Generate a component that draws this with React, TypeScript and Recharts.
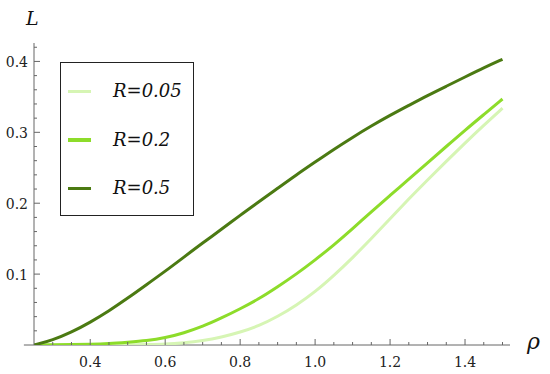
import React from "react";
import { LineChart, Line, XAxis, YAxis, Legend, ReferenceLine } from "recharts";

const RHO = [0.25, 0.3, 0.35, 0.4, 0.45, 0.5, 0.55, 0.6, 0.65, 0.7, 0.75, 0.8, 0.85, 0.9, 0.95, 1.0, 1.05, 1.1, 1.15, 1.2, 1.25, 1.3, 1.35, 1.4, 1.45, 1.5];
const L_R005 = [0, 0, 0, 0, 0, 0.0002, 0.0005, 0.001, 0.003, 0.006, 0.011, 0.018, 0.027, 0.04, 0.056, 0.075, 0.098, 0.123, 0.15, 0.178, 0.206, 0.233, 0.259, 0.285, 0.31, 0.334];
const L_R02 = [0, 0.0002, 0.0005, 0.001, 0.002, 0.004, 0.006, 0.01, 0.017, 0.026, 0.038, 0.051, 0.065, 0.082, 0.1, 0.12, 0.141, 0.164, 0.188, 0.211, 0.234, 0.257, 0.28, 0.303, 0.325, 0.347];
const L_R05 = [0, 0.007, 0.018, 0.032, 0.048, 0.066, 0.085, 0.104, 0.124, 0.144, 0.163, 0.183, 0.202, 0.221, 0.24, 0.258, 0.276, 0.293, 0.309, 0.324, 0.338, 0.352, 0.365, 0.378, 0.391, 0.403];
const SERIES_NAMES = ["R=0.05", "R=0.2", "R=0.5"];
const SERIES_COLORS = ["#d6f5b4", "#8ddc2a", "#4b7a12"];

const X_MAJOR = [0.4, 0.6, 0.8, 1.0, 1.2, 1.4];
const X_TICKS = [0.3, 0.35, 0.4, 0.45, 0.5, 0.55, 0.6, 0.65, 0.7, 0.75, 0.8, 0.85, 0.9, 0.95, 1.0, 1.05, 1.1, 1.15, 1.2, 1.25, 1.3, 1.35, 1.4, 1.45, 1.5];
const Y_MAJOR = [0.1, 0.2, 0.3, 0.4];
const Y_TICKS = [0.02, 0.04, 0.06, 0.08, 0.1, 0.12, 0.14, 0.16, 0.18, 0.2, 0.22, 0.24, 0.26, 0.28, 0.3, 0.32, 0.34, 0.36, 0.38, 0.4, 0.42];
const X_DOMAIN: [number, number] = [0.25, 1.52];
const X_AXIS_START = 0.223;
const Y_DOMAIN: [number, number] = [0, 0.426];
const X_LABEL = "ρ";
const Y_LABEL = "L";

const data = RHO.map((r, i) => ({ rho: r, a: L_R005[i], b: L_R02[i], c: L_R05[i] }));

const AXIS_COLOR = "#666666";
const LABEL_COLOR = "#222222";
const SERIF = "'DejaVu Serif', serif";

const isMajor = (list: number[], v: number) => list.some((m) => Math.abs(m - v) < 1e-9);

const XTick = (props: any) => {
  const { x, y, payload } = props;
  const major = isMajor(X_MAJOR, payload.value);
  return (
    <g>
      <line x1={x} y1={y} x2={x} y2={y - (major ? 6 : 3)} stroke={AXIS_COLOR} strokeWidth={1} />
      {major && (
        <text x={x} y={y + 22} textAnchor="middle" style={{ fontFamily: SERIF, fontSize: 14 }} fill={LABEL_COLOR}>
          {payload.value.toFixed(1)}
        </text>
      )}
    </g>
  );
};

const YTick = (props: any) => {
  const { x, y, payload } = props;
  const major = isMajor(Y_MAJOR, payload.value);
  return (
    <g>
      <line x1={x} y1={y} x2={x + (major ? 6 : 3)} y2={y} stroke={AXIS_COLOR} strokeWidth={1} />
      {major && (
        <text x={x - 6} y={y + 6} textAnchor="end" style={{ fontFamily: SERIF, fontSize: 14 }} fill={LABEL_COLOR}>
          {payload.value.toFixed(1)}
        </text>
      )}
    </g>
  );
};

const LegendBox = (props: any) => {
  const payload = props.payload || [];
  return (
    <div
      style={{
        boxSizing: "border-box",
        width: 134,
        height: 154,
        border: "1.3px solid #222",
        background: "#fff",
        paddingTop: 4,
      }}
    >
      {payload.map((p: any, i: number) => (
        <div key={i} style={{ display: "flex", alignItems: "center", height: 48.6 }}>
          <div style={{ marginLeft: 7, width: 23, height: 3.5, background: p.color }} />
          <span
            style={{
              marginLeft: 22,
              fontFamily: SERIF,
              fontStyle: "italic",
              fontSize: 18,
              color: "#111",
              lineHeight: 1,
            }}
          >
            {p.value}
          </span>
        </div>
      ))}
    </div>
  );
};

export default function App() {
  return (
    <div style={{ position: "absolute", left: 0, top: 0, width: 550, height: 374, background: "#fff" }}>
      <LineChart width={550} height={374} data={data} margin={{ top: 43, right: 40, bottom: 0, left: 0 }}>
        <XAxis
          dataKey="rho"
          type="number"
          domain={X_DOMAIN}
          allowDataOverflow
          ticks={X_TICKS}
          interval={0}
          height={29}
          axisLine={false}
          tickSize={0}
          tickMargin={0}
          tickLine={false}
          tick={<XTick />}
        />
        <YAxis
          type="number"
          domain={Y_DOMAIN}
          allowDataOverflow
          ticks={Y_TICKS}
          interval={0}
          width={34}
          axisLine={{ stroke: AXIS_COLOR, strokeWidth: 1 }}
          tickSize={0}
          tickMargin={0}
          tickLine={false}
          tick={<YTick />}
        />
        <ReferenceLine
          segment={[
            { x: X_AXIS_START, y: 0 },
            { x: X_DOMAIN[1], y: 0 },
          ]}
          ifOverflow="visible"
          stroke={AXIS_COLOR}
          strokeWidth={1}
        />
        <Legend
          layout="vertical"
          align="center"
          verticalAlign="middle"
          content={<LegendBox />}
          wrapperStyle={{ left: 60, top: 62, width: 134, height: 154 }}
        />
        <Line type="basis" dataKey="a" name={SERIES_NAMES[0]} stroke={SERIES_COLORS[0]} strokeWidth={3} dot={false} isAnimationActive={false} />
        <Line type="basis" dataKey="b" name={SERIES_NAMES[1]} stroke={SERIES_COLORS[1]} strokeWidth={3} dot={false} isAnimationActive={false} />
        <Line type="basis" dataKey="c" name={SERIES_NAMES[2]} stroke={SERIES_COLORS[2]} strokeWidth={3} dot={false} isAnimationActive={false} />
      </LineChart>
      <div
        style={{
          position: "absolute",
          left: 26,
          top: 9,
          fontFamily: SERIF,
          fontStyle: "italic",
          fontSize: 19,
          lineHeight: 1,
          color: "#111",
        }}
      >
        {Y_LABEL}
      </div>
      <div
        style={{
          position: "absolute",
          left: 527,
          top: 331,
          fontFamily: SERIF,
          fontStyle: "italic",
          fontSize: 22,
          lineHeight: 1,
          color: "#111",
        }}
      >
        {X_LABEL}
      </div>
    </div>
  );
}
